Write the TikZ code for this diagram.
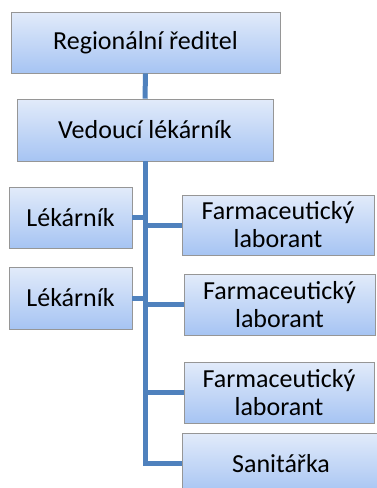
\documentclass[tikz,border=0pt]{standalone}
\usepackage{fontspec}
\setmainfont{Carlito}
\definecolor{linkblue}{RGB}{79,129,189}
\definecolor{boxtop}{RGB}{226,235,250}
\definecolor{boxbot}{RGB}{166,196,243}
\definecolor{boxedge}{RGB}{150,150,150}
\tikzset{
  orgbox/.style={draw=boxedge, line width=0.6pt, top color=boxtop, bottom color=boxbot,
    align=center, inner sep=0pt, font=\fontsize{26}{28}\selectfont},
  orgline/.style={line width=5pt, draw=linkblue}
}
\begin{document}
\begin{tikzpicture}[x=1pt,y=-1pt]

\useasboundingbox (0,0) rectangle (377,488);
\clip (0,0) rectangle (377,488);

\node[orgbox, minimum width=269pt, minimum height=61pt] (reg) at (145.5,42.5) {Regionální ředitel};
\node[orgbox, minimum width=256pt, minimum height=62pt] (ved) at (145,130) {Vedoucí lékárník};

\node[orgbox, minimum width=123pt, minimum height=61pt] (lek1) at (70.5,217.5) {Lékárník};
\node[orgbox, minimum width=123pt, minimum height=62pt] (lek2) at (70.5,298) {Lékárník};

\node[orgbox, minimum width=192pt, minimum height=60pt] (farm1) at (278,225) {Farmaceutický\\laborant};
\node[orgbox, minimum width=191pt, minimum height=61pt] (farm2) at (279.5,304.5) {Farmaceutický\\laborant};
\node[orgbox, minimum width=190pt, minimum height=61pt] (farm3) at (279,392.5) {Farmaceutický\\laborant};
\node[orgbox, minimum width=198pt, minimum height=61pt] (san) at (281,463.5) {Sanitářka};

\draw[orgline] (reg.south) to (ved.north);
\draw[orgline] (ved.south) |- (san.west);

\draw[orgline] (lek1.east) to (lek1.east -| ved.south);
\draw[orgline] (lek2.east) to (lek2.east -| ved.south);
\draw[orgline] (farm1.west) to (farm1.west -| ved.south);
\draw[orgline] (farm2.west) to (farm2.west -| ved.south);
\draw[orgline] (farm3.west) to (farm3.west -| ved.south);

\end{tikzpicture}
\end{document}
